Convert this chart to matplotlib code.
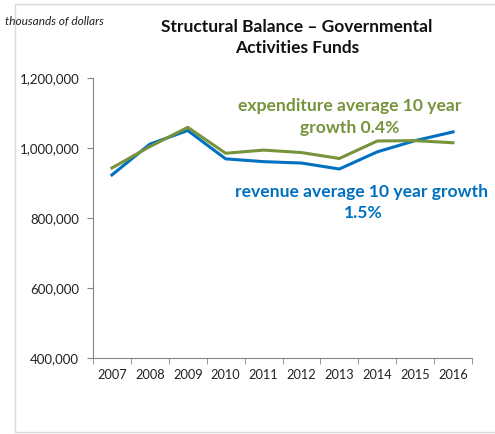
import matplotlib
matplotlib.use("Agg")
import matplotlib.pyplot as plt
from matplotlib.patches import Rectangle

years = ["2007", "2008", "2009", "2010", "2011", "2012", "2013", "2014", "2015", "2016"]
revenue = [923000, 1011000, 1050000, 969000, 961000, 957000, 940000, 989000, 1021000, 1046000]
expenditure = [943000, 1004000, 1059000, 985000, 994000, 987000, 970000, 1020000, 1021000, 1015000]
yticks = [400000, 600000, 800000, 1000000, 1200000]

blue = "#0070C0"
green = "#77933C"
plt.rcParams['font.family'] = ['Lato', 'DejaVu Sans']

fig = plt.figure(figsize=(4.95, 4.34), dpi=100)
fig.patches.append(Rectangle((15 / 495, 2 / 434), 1.0, 428 / 434, transform=fig.transFigure,
                             fill=False, edgecolor="#d9d9d9", linewidth=1.0))
ax = fig.add_axes([93 / 495, 1 - 358 / 434, 379 / 495, 280 / 434])

x = range(len(years))
ax.plot(x, revenue, color=blue, linewidth=2.2)
ax.plot(x, expenditure, color=green, linewidth=2.2)

ax.set_xlim(-0.5, len(years) - 0.5)
ax.set_ylim(400000, 1200000)
ax.set_yticks(yticks)
ax.set_yticklabels([f"{v:,}" for v in yticks], fontsize=9.5, color="#222222")
ax.set_xticks(list(x))
ax.set_xticklabels(years, fontsize=9.2, color="#222222")
ax.set_xticks([i - 0.5 for i in range(len(years) + 1)], minor=True)
ax.tick_params(axis="x", which="major", length=0, pad=8)
ax.tick_params(axis="x", which="minor", length=4, color="#868686")
ax.tick_params(axis="y", length=4, color="#868686", pad=6)

for s in ["top", "right"]:
    ax.spines[s].set_visible(False)
for s in ["left", "bottom"]:
    ax.spines[s].set_color("#868686")

fig.text(297 / 495, 1 - 27 / 434, "Structural Balance \u2013 Governmental", ha="center", va="center",
         fontsize=12.5, fontweight="bold", color="#111111")
fig.text(297 / 495, 1 - 48 / 434, "Activities Funds", ha="center", va="center",
         fontsize=12.5, fontweight="bold", color="#111111")
fig.text(5 / 495, 1 - 21 / 434, "thousands of dollars", ha="left", va="center",
         fontsize=8.6, style="italic", color="#222222")

fig.text(350 / 495, 1 - 106 / 434, "expenditure average 10 year", ha="center", va="center",
         fontsize=12.6, fontweight="bold", color=green)
fig.text(350 / 495, 1 - 128 / 434, "growth 0.4%", ha="center", va="center",
         fontsize=12.6, fontweight="bold", color=green)
fig.text(362 / 495, 1 - 192 / 434, "revenue average 10 year growth", ha="center", va="center",
         fontsize=12.6, fontweight="bold", color=blue)
fig.text(363 / 495, 1 - 213 / 434, "1.5%", ha="center", va="center",
         fontsize=12.6, fontweight="bold", color=blue)

fig.savefig("out.png", dpi=100)
